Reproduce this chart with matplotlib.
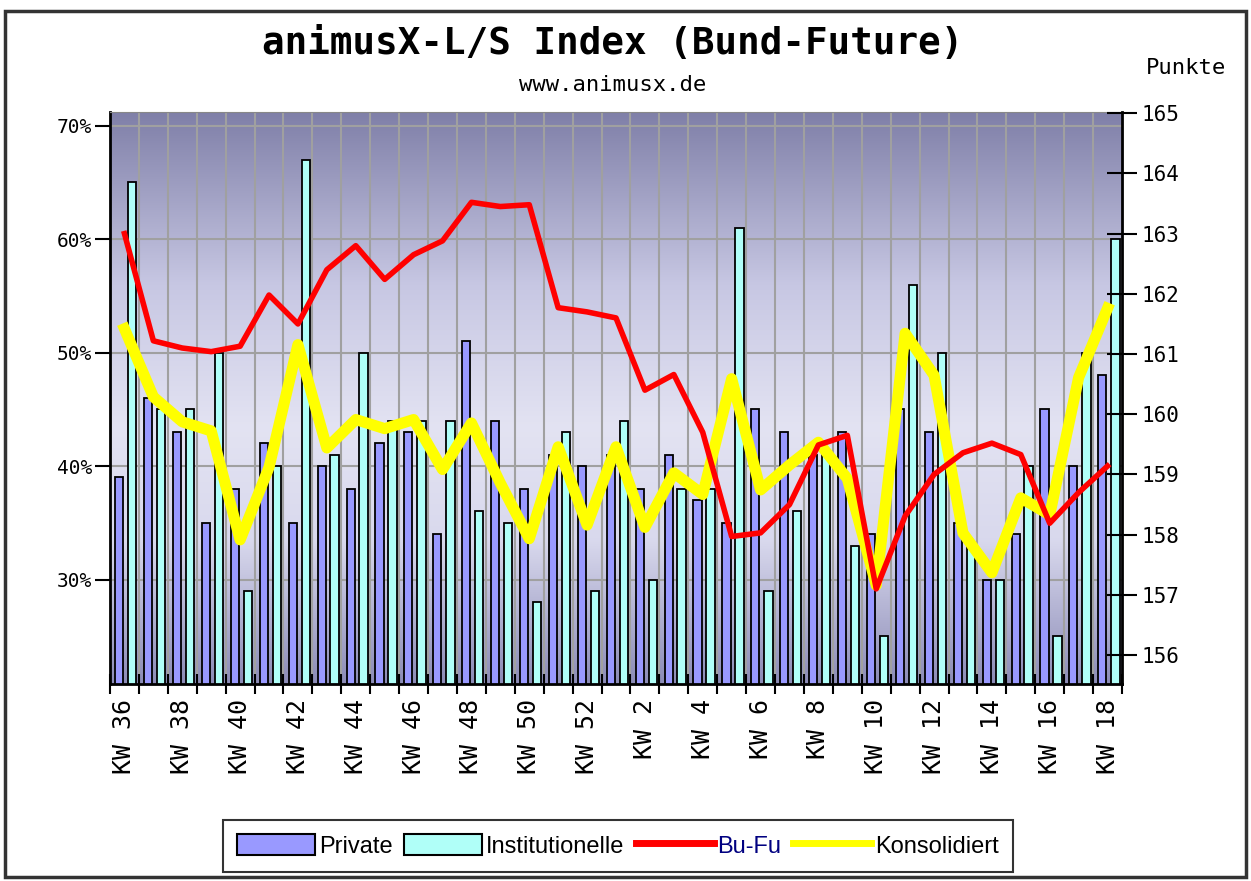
import matplotlib
matplotlib.use("Agg")
import matplotlib.pyplot as plt
import numpy as np
from matplotlib.patches import Rectangle, Patch
from matplotlib.lines import Line2D
from matplotlib.colors import LinearSegmentedColormap

weeks = list(range(36, 53)) + list(range(1, 19))
private = [39, 46, 43, 35, 38, 42, 35, 40, 38, 42, 43, 34, 51, 44, 38, 41, 40, 41,
           38, 41, 37, 35, 45, 43, 41, 43, 34, 45, 43, 35, 30, 34, 45, 40, 48]
institutionelle = [65, 45, 45, 50, 29, 40, 67, 41, 50, 44, 44, 44, 36, 35, 28, 43, 29, 44,
                   30, 38, 38, 61, 29, 36, 41, 33, 25, 56, 50, 33, 30, 40, 25, 50, 60]
bufu = [163.0, 161.22, 161.1, 161.04, 161.13, 161.98, 161.5, 162.4, 162.8, 162.24,
        162.65, 162.88, 163.52, 163.45, 163.48, 161.77, 161.7, 161.6, 160.4, 160.66,
        159.7, 157.97, 158.03, 158.5, 159.49, 159.65, 157.1, 158.31, 159.0, 159.36,
        159.52, 159.33, 158.19, 158.7, 159.14]
konsolidiert = [52.1, 46.1, 43.9, 43.1, 33.5, 39.9, 50.7, 41.6, 44.1, 43.3, 44.1, 39.7,
                43.8, 38.5, 33.6, 41.7, 34.8, 41.7, 34.6, 39.4, 37.5, 47.7, 37.9, 40.1,
                42.1, 38.9, 29.5, 51.7, 48.0, 34.1, 30.6, 37.2, 35.7, 47.8, 53.9]

pct_ticks = [30, 40, 50, 60, 70]
pkt_ticks = [156, 157, 158, 159, 160, 161, 162, 163, 164, 165]

mono = "DejaVu Sans Mono"
fig = plt.figure(figsize=(12.51, 8.81), dpi=100)
fig.patch.set_facecolor("white")
fig.patches.append(Rectangle((0.004, 0.005), 0.992, 0.983, transform=fig.transFigure,
                             fill=False, edgecolor="#333333", linewidth=2.5))

ax = fig.add_axes([110 / 1251, 1 - 684 / 881, 1012 / 1251, 572 / 881])
x = np.arange(len(weeks))

# background gradient
cmap = LinearSegmentedColormap.from_list("bg", [
    (0.0, (0.50, 0.50, 0.66)), (0.3, (0.78, 0.78, 0.89)), (0.55, (0.89, 0.89, 0.95)),
    (0.75, (0.85, 0.85, 0.93)), (1.0, (0.55, 0.55, 0.72))])
grad = np.linspace(0, 1, 256).reshape(-1, 1)
ax.imshow(grad, cmap=cmap, aspect="auto", extent=[0, 1, 0, 1], transform=ax.transAxes, zorder=0)

for b in np.arange(0.5, len(weeks) - 0.5, 1):
    ax.axvline(b, color="#a0a0a0", lw=1.5, zorder=1)
for t in pct_ticks:
    ax.axhline(t, color="#a0a0a0", lw=1.5, zorder=1)

ax.bar(x - 0.18, private, width=0.28, color="#9999ff", edgecolor="black", lw=1.3, zorder=2)
ax.bar(x + 0.27, institutionelle, width=0.29, color="#b0fff8", edgecolor="black", lw=1.3, zorder=2)
ax.plot(x, konsolidiert, color="#ffff00", lw=8, zorder=3, solid_joinstyle="round")

ax.set_xlim(-0.5, len(weeks) - 0.5)
ax.set_ylim(20.8, 71.2)
ax.set_yticks(pct_ticks)
ax.set_yticklabels([f"{t}%" for t in pct_ticks], fontfamily=mono, fontsize=14)
ax.tick_params(axis="y", direction="out", length=11, width=1.5, pad=2)

ax.set_xticks(x[::2])
ax.set_xticklabels([f"KW {w}" for w in weeks[::2]], rotation=90, fontfamily=mono, fontsize=18)
ax.set_xticks(np.arange(-0.5, len(weeks), 1), minor=True)
ax.tick_params(axis="x", which="major", length=0, pad=11)
ax.tick_params(axis="x", which="minor", direction="inout", length=14, width=1.5)
for s in ["left", "bottom"]:
    ax.spines[s].set_linewidth(2)
ax.spines["top"].set_color("#888888")
ax.spines["right"].set_visible(False)

ax2 = ax.twinx()
ax2.plot(x, bufu, color="#ff0000", lw=4, zorder=4, solid_joinstyle="round")
ax2.set_ylim(155.52, 165.02)
ax2.set_yticks(pkt_ticks)
ax2.set_yticklabels([str(t) for t in pkt_ticks], fontfamily=mono, fontsize=15)
ax2.tick_params(axis="y", direction="inout", length=22, width=1.5, pad=3)
ax2.spines["right"].set_linewidth(2)
ax2.spines["top"].set_visible(False)
ax2.spines["left"].set_visible(False)
ax2.spines["bottom"].set_visible(False)

fig.text(0.49, 0.95, "animusX-L/S Index (Bund-Future)", ha="center", va="center",
         fontfamily=mono, fontweight="bold", fontsize=27)
fig.text(0.49, 0.903, "www.animusx.de", ha="center", va="center", fontfamily=mono, fontsize=16)
fig.text(0.948, 0.923, "Punkte", ha="center", va="center", fontfamily=mono, fontsize=16)

handles = [Patch(facecolor="#9999ff", edgecolor="black", lw=1.5),
           Patch(facecolor="#b0fff8", edgecolor="black", lw=1.5),
           Line2D([], [], color="#ff0000", lw=5),
           Line2D([], [], color="#ffff00", lw=5)]
leg = fig.legend(handles, ["Private", "Institutionelle", "Bu-Fu", "Konsolidiert"],
                 loc="center", bbox_to_anchor=(0.494, 0.040), ncol=4, frameon=True,
                 fancybox=False, edgecolor="black", handlelength=3.3,
                 handleheight=1.0, handletextpad=0.15, columnspacing=0.5,
                 prop={"family": "Liberation Sans", "size": 17}, borderpad=0.6)
leg.get_frame().set_linewidth(1.5)
leg.get_texts()[2].set_color("#000080")

fig.savefig("out.png", dpi=100)
